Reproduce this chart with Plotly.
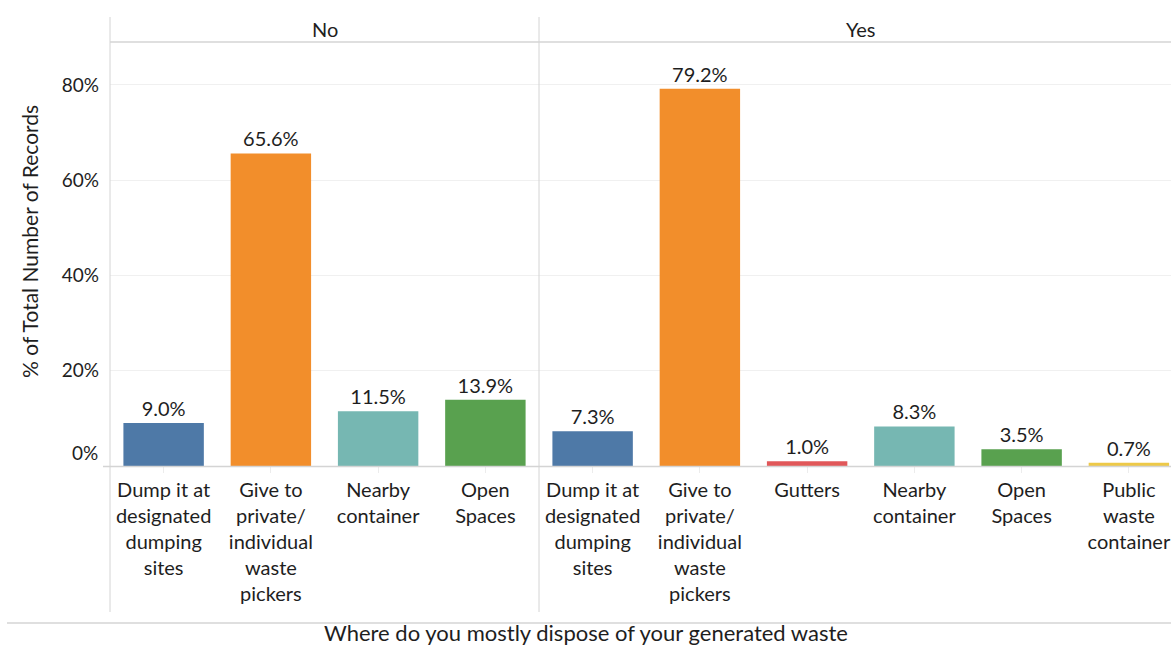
import plotly.graph_objects as go

# Facet values: share of all records per disposal method
no_categories = [
    "Dump it at<br>designated<br>dumping<br>sites",
    "Give to<br>private/<br>individual<br>waste<br>pickers",
    "Nearby<br>container",
    "Open<br>Spaces",
]
no_values = [9.0, 65.6, 11.5, 13.9]
no_colors = ["#4e79a7", "#f28e2b", "#76b7b2", "#59a14f"]

yes_categories = [
    "Dump it at<br>designated<br>dumping<br>sites",
    "Give to<br>private/<br>individual<br>waste<br>pickers",
    "Gutters",
    "Nearby<br>container",
    "Open<br>Spaces",
    "Public<br>waste<br>container",
]
yes_values = [7.3, 79.2, 1.0, 8.3, 3.5, 0.7]
yes_colors = ["#4e79a7", "#f28e2b", "#e15759", "#76b7b2", "#59a14f", "#edc948"]

facet_labels = ["No", "Yes"]
y_ticks = [20, 40, 60, 80]
y_title = "% of Total Number of Records"
x_title = "Where do you mostly dispose of your generated waste"

FONT = "Lato, 'Open Sans', sans-serif"
TXT = "#1e1e1e"
LINE = "#d4d4d4"

W, H = 1171, 648
L, R, T, B = 110, 0, 42, 182
plot_w = W - L - R
plot_h = H - T - B
split_px = 539
d1 = (split_px - L) / plot_w


def px_x(px):
    return (px - L) / plot_w


def px_y(py):
    return (H - B - py) / plot_h


fig = go.Figure()

fig.add_trace(go.Bar(
    x=list(range(len(no_values))), y=no_values,
    marker=dict(color=no_colors, line=dict(width=0)),
    width=0.75,
    text=[f"{v:.1f}%" for v in no_values], textposition="outside",
    textfont=dict(family=FONT, size=20, color=TXT),
    cliponaxis=False, xaxis="x", yaxis="y", showlegend=False,
))
fig.add_trace(go.Bar(
    x=list(range(len(yes_values))), y=yes_values,
    marker=dict(color=yes_colors, line=dict(width=0)),
    width=0.75,
    text=[f"{v:.1f}%" for v in yes_values], textposition="outside",
    textfont=dict(family=FONT, size=20, color=TXT),
    cliponaxis=False, xaxis="x2", yaxis="y2", showlegend=False,
))

cat_w_px = (split_px - L) / len(no_values)
yes_span = (W - split_px) / cat_w_px

xcommon = dict(
    showgrid=False, zeroline=False, showline=False,
    ticks="outside", tickson="boundaries", ticklen=6, tickcolor="#ececec",
    tickfont=dict(family=FONT, size=20, color=TXT),
    tickmode="array", fixedrange=True,
)
ycommon = dict(
    range=[0, 89], showgrid=True, gridcolor="#f0f0f0", gridwidth=1,
    zeroline=False, showline=False, tickvals=y_ticks,
    fixedrange=True,
)

fig.update_layout(
    width=W, height=H,
    margin=dict(l=L, r=R, t=T, b=B, pad=0),
    paper_bgcolor="white", plot_bgcolor="white",
    bargap=0.25,
    font=dict(family=FONT, color=TXT),
    xaxis=dict(domain=[0, d1], range=[-0.5, len(no_values) - 0.5],
               tickvals=list(range(len(no_values))), ticktext=no_categories,
               anchor="y", **xcommon),
    xaxis2=dict(domain=[d1, 1], range=[-0.5, -0.5 + yes_span],
                tickvals=list(range(len(yes_values))), ticktext=yes_categories,
                anchor="y2", **xcommon),
    yaxis=dict(domain=[0, 1], anchor="x",
               ticktext=[f"{v}%" for v in y_ticks], tickmode="array",
               tickfont=dict(family=FONT, size=19, color=TXT),
               ticklabelstandoff=10, **ycommon),
    yaxis2=dict(domain=[0, 1], anchor="x2", matches="y", showticklabels=False,
                **ycommon),
)

shape_line = dict(color=LINE, width=1)
shapes = [
    # facet separators
    dict(type="line", xref="paper", yref="paper",
         x0=px_x(110), x1=px_x(110), y0=px_y(17), y1=px_y(612), line=shape_line),
    dict(type="line", xref="paper", yref="paper",
         x0=px_x(split_px), x1=px_x(split_px), y0=px_y(17), y1=px_y(612), line=shape_line),
    # header underline
    dict(type="line", xref="paper", yref="paper",
         x0=px_x(110), x1=px_x(W), y0=px_y(42), y1=px_y(42),
         line=dict(color=LINE, width=1.5)),
    # baseline
    dict(type="line", xref="paper", yref="paper",
         x0=px_x(103), x1=px_x(W), y0=px_y(466.5), y1=px_y(466.5),
         line=dict(color=LINE, width=1.5)),
    # axis-title separator
    dict(type="line", xref="paper", yref="paper",
         x0=px_x(7), x1=px_x(W), y0=px_y(623), y1=px_y(623),
         line=dict(color=LINE, width=1.5)),
]
fig.update_layout(shapes=shapes)

annotations = [
    dict(text=facet_labels[0], xref="paper", yref="paper",
         x=px_x((110 + split_px) / 2), y=px_y(29), showarrow=False,
         xanchor="center", yanchor="middle",
         font=dict(family=FONT, size=20, color=TXT)),
    dict(text=facet_labels[1], xref="paper", yref="paper",
         x=px_x(861), y=px_y(29), showarrow=False,
         xanchor="center", yanchor="middle",
         font=dict(family=FONT, size=20, color=TXT)),
    dict(text="0%", xref="paper", yref="paper",
         x=px_x(100), y=px_y(452), showarrow=False,
         xanchor="right", yanchor="middle",
         font=dict(family=FONT, size=19, color=TXT)),
    dict(text=y_title, xref="paper", yref="paper",
         x=px_x(29), y=px_y(242), showarrow=False, textangle=-90,
         xanchor="center", yanchor="middle",
         font=dict(family=FONT, size=21, color=TXT)),
    dict(text=x_title, xref="paper", yref="paper",
         x=px_x(586), y=px_y(647), showarrow=False,
         xanchor="center", yanchor="bottom", borderpad=0,
         font=dict(family=FONT, size=22, color=TXT)),
]
fig.update_layout(annotations=annotations)

fig.write_html("out.html", config={"displayModeBar": False})
